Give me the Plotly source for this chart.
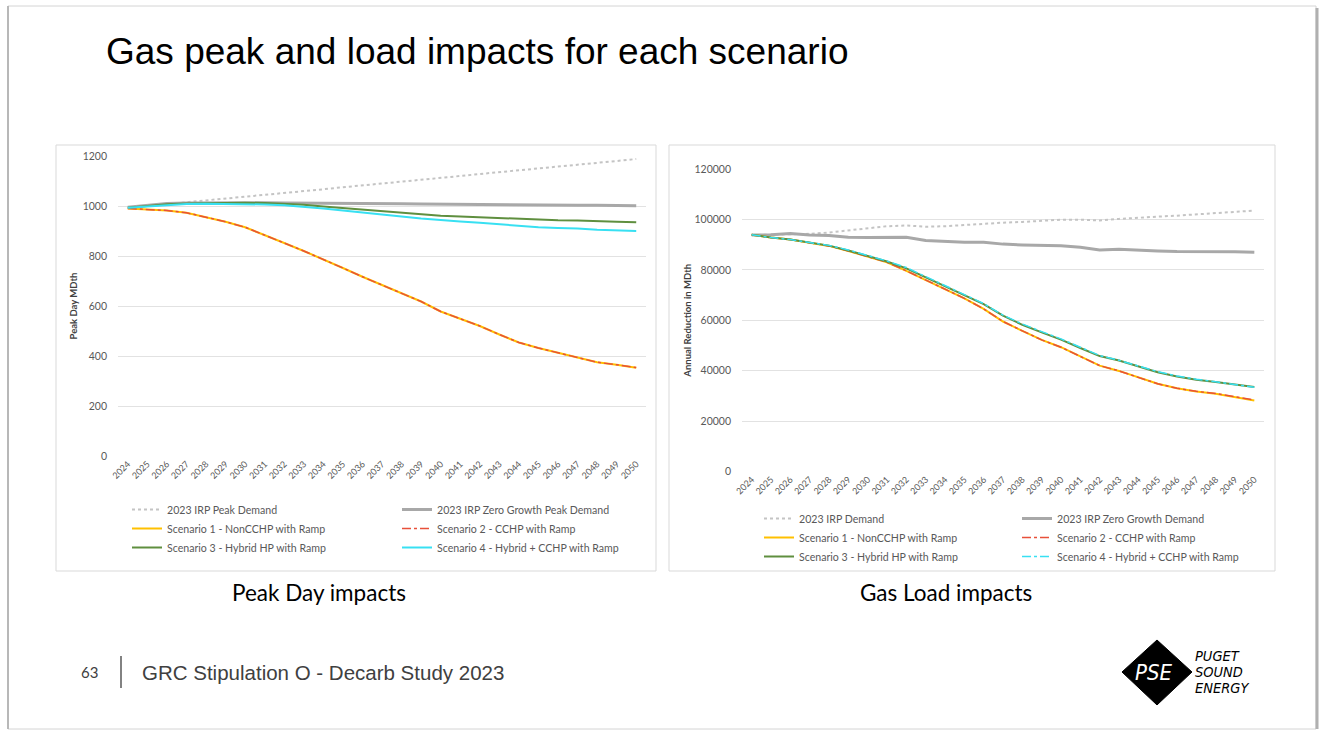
import plotly.graph_objects as go

W, H = 1322, 731

years = [str(y) for y in range(2024, 2051)]

# Peak day impacts (MDth)
peak_irp = [995, 1000, 1008, 1015, 1022, 1030, 1037, 1045, 1052, 1060, 1067, 1075, 1082, 1090,
            1098, 1105, 1113, 1120, 1128, 1135, 1143, 1150, 1158, 1165, 1172, 1180, 1188]
peak_zero = [995, 1003, 1010, 1012, 1013, 1013, 1013, 1013, 1012, 1012, 1011, 1010, 1010, 1009,
             1009, 1008, 1007, 1006, 1006, 1005, 1005, 1004, 1004, 1003, 1003, 1002, 1001]
peak_s1 = [990, 987, 982, 973, 955, 937, 915, 885, 852, 820, 787, 752, 717, 685,
           652, 618, 578, 548, 520, 486, 454, 432, 412, 395, 375, 365, 353]
peak_s2 = [990, 987, 982, 973, 955, 937, 915, 885, 852, 820, 787, 752, 717, 685,
           652, 618, 578, 548, 520, 486, 454, 432, 412, 395, 375, 365, 354]
peak_s3 = [993, 1000, 1007, 1010, 1012, 1013, 1013, 1012, 1009, 1005, 998, 992, 983, 978,
           973, 967, 961, 958, 955, 950, 946, 945, 943, 942, 938, 937, 935]
peak_s4 = [993, 999, 1005, 1008, 1009, 1009, 1008, 1006, 1003, 998, 990, 982, 973, 966,
           958, 950, 943, 938, 933, 927, 920, 915, 912, 910, 905, 902, 900]

# Annual gas load (MDth)
load_irp = [93800, 93900, 94100, 94300, 94800, 95600, 96400, 97300, 97600, 97100, 97300, 97800,
            98400, 98700, 99000, 99400, 99900, 99900, 99600, 100200, 100800, 101100, 101500,
            102000, 102700, 103100, 103500]
load_zero = [93800, 93900, 94400, 93800, 93600, 92900, 92800, 92800, 92900, 91600, 91200, 90950,
             90950, 90200, 89900, 89750, 89600, 89000, 87900, 88200, 88000, 87500, 87250, 87250,
             87500, 87200, 87000]
load_s1 = [93900, 92800, 92000, 90800, 89500, 87500, 85300, 83000, 79600, 76000, 72400, 68700,
           64500, 59500, 55800, 52200, 49300, 45600, 42000, 39900, 37400, 34800, 33000, 31700,
           30800, 29500, 28200]
load_s2 = [93900, 92800, 92000, 90800, 89500, 87500, 85300, 83000, 79600, 76000, 72400, 68700,
           64500, 59500, 55800, 52200, 49300, 45600, 42000, 39900, 37400, 34800, 33000, 31800,
           30900, 29700, 28400]
load_s3 = [93900, 92800, 92000, 90700, 89600, 87700, 85600, 83300, 80600, 77000, 73600, 70000,
           66400, 61800, 58200, 55200, 52300, 49000, 45800, 44000, 41700, 39400, 37700, 36400,
           35500, 34500, 33500]
load_s4 = [93900, 92800, 92000, 90800, 89700, 87900, 85800, 83500, 80900, 77300, 73900, 70300,
           66600, 62000, 58500, 55500, 52600, 49300, 46000, 44100, 41800, 39600, 37900, 36600,
           35600, 34500, 33400]

peak_names = ["2023 IRP Peak Demand", "2023 IRP Zero Growth Peak Demand",
              "Scenario 1 - NonCCHP with Ramp", "Scenario 2 - CCHP with Ramp",
              "Scenario 3 - Hybrid HP with Ramp", "Scenario 4 - Hybrid + CCHP with Ramp"]
load_names = ["2023 IRP Demand", "2023 IRP Zero Growth Demand",
              "Scenario 1 - NonCCHP with Ramp", "Scenario 2 - CCHP with Ramp",
              "Scenario 3 - Hybrid HP with Ramp", "Scenario 4 - Hybrid + CCHP with Ramp"]

C_IRP = "#c4c4c4"
C_ZERO = "#a8a8a8"
C_S1 = "#ffc000"
C_S2 = "#e8503a"
C_S3 = "#5f8f3f"
C_S4 = "#38e0f2"


def px_x(v):
    return v / W


def px_y(v):
    return 1 - v / H


fig = go.Figure()

peak_styles = [
    (peak_irp, C_IRP, 2, "dot", "legend"),
    (peak_zero, C_ZERO, 3, "solid", "legend2"),
    (peak_s1, C_S1, 2, "solid", "legend"),
    (peak_s2, C_S2, 1.5, "dashdot", "legend2"),
    (peak_s3, C_S3, 2, "solid", "legend"),
    (peak_s4, C_S4, 2, "solid", "legend2"),
]
for (vals, col, w, dash, lg), name in zip(peak_styles, peak_names):
    fig.add_trace(go.Scatter(x=years, y=vals, name=name, mode="lines",
                             line=dict(color=col, width=w, dash=dash),
                             xaxis="x", yaxis="y", legend=lg))

load_styles = [
    (load_irp, C_IRP, 2, "dot", "legend3"),
    (load_zero, C_ZERO, 3, "solid", "legend4"),
    (load_s1, C_S1, 2, "solid", "legend3"),
    (load_s2, C_S2, 1.5, "dashdot", "legend4"),
    (load_s3, C_S3, 2, "solid", "legend3"),
    (load_s4, C_S4, 1.5, "dashdot", "legend4"),
]
for (vals, col, w, dash, lg), name in zip(load_styles, load_names):
    fig.add_trace(go.Scatter(x=years, y=vals, name=name, mode="lines",
                             line=dict(color=col, width=w, dash=dash),
                             xaxis="x2", yaxis="y2", legend=lg))

tick_font = dict(family="Lato, Open Sans, sans-serif", size=10.5, color="#595959")
xtick_font = dict(family="Lato, Open Sans, sans-serif", size=9, color="#595959")
title_font = dict(family="Lato, Open Sans, sans-serif", size=9.5, color="#404040", weight="bold")

xaxis_common = dict(type="category", range=[-0.5, 26.5], tickangle=-45, tickfont=xtick_font,
                    showgrid=True, gridcolor="#ffffff", gridwidth=1, tickson="boundaries",
                    ticks="", showline=False, zeroline=False, fixedrange=True, automargin=False)
yaxis_common = dict(showgrid=True, gridcolor="#e2e2e2", gridwidth=1, ticks="",
                    showline=False, zeroline=False, tickfont=tick_font,
                    ticklabelstandoff=10, fixedrange=True, automargin=False)

legend_font = dict(family="Lato, Open Sans, sans-serif", size=10.6, color="#595959")


def legend_at(x_px, y_px):
    return dict(x=px_x(x_px), y=px_y(y_px), xanchor="left", yanchor="top",
                orientation="v", font=legend_font, bgcolor="rgba(0,0,0,0)",
                tracegroupgap=0, itemclick=False, itemdoubleclick=False)


fig.update_layout(
    width=W, height=H,
    margin=dict(l=0, r=0, t=0, b=0, autoexpand=False),
    paper_bgcolor="white",
    plot_bgcolor="#f3f3f3",
    showlegend=True,
    xaxis=dict(domain=[px_x(118), px_x(646)], anchor="y", **xaxis_common),
    yaxis=dict(domain=[px_y(456), px_y(156)], anchor="x", range=[0, 1200], dtick=200,
               title=dict(text="Peak Day MDth", font=title_font, standoff=3),
               **yaxis_common),
    xaxis2=dict(domain=[px_x(742), px_x(1264)], anchor="y2", **xaxis_common),
    yaxis2=dict(domain=[px_y(471.5), px_y(169)], anchor="x2", range=[0, 120000], dtick=20000,
                tickformat="d",
                title=dict(text="Annual Reduction in MDth", font=title_font, standoff=1),
                **yaxis_common),
    legend=legend_at(127, 495),
    legend2=legend_at(397, 495),
    legend3=legend_at(759, 504),
    legend4=legend_at(1017, 504),
)

shapes = []
# slide frame with a soft edge shadow
shapes.append(dict(type="rect", xref="paper", yref="paper",
                   x0=px_x(8), x1=px_x(1316), y0=px_y(729), y1=px_y(6),
                   line=dict(color="#d4d4d4", width=1), layer="below"))
shapes.append(dict(type="line", xref="paper", yref="paper",
                   x0=px_x(8), x1=px_x(8), y0=px_y(729), y1=px_y(6),
                   line=dict(color="#b8b8b8", width=2), layer="below"))
shapes.append(dict(type="line", xref="paper", yref="paper",
                   x0=px_x(1317), x1=px_x(1317), y0=px_y(729), y1=px_y(8),
                   line=dict(color="#b0b0b0", width=3), layer="below"))
# chart panels
for x0, x1 in [(56, 656), (669, 1275)]:
    shapes.append(dict(type="rect", xref="paper", yref="paper",
                       x0=px_x(x0), x1=px_x(x1), y0=px_y(571), y1=px_y(145),
                       line=dict(color="#d9d9d9", width=1), fillcolor="white", layer="below"))
# footer divider
shapes.append(dict(type="line", xref="paper", yref="paper",
                   x0=px_x(121), x1=px_x(121), y0=px_y(688), y1=px_y(656),
                   line=dict(color="#595959", width=1.5)))
# logo diamond
shapes.append(dict(type="path", xref="paper", yref="paper",
                   path="M {:.5f},{:.5f} L {:.5f},{:.5f} L {:.5f},{:.5f} L {:.5f},{:.5f} Z".format(
                       px_x(1122), px_y(672), px_x(1157), px_y(640),
                       px_x(1192), px_y(672), px_x(1157), px_y(705)),
                   fillcolor="#000000", line=dict(color="#000000", width=1)))
fig.update_layout(shapes=shapes)

ann = []
ann.append(dict(text="Gas peak and load impacts for each scenario", x=px_x(104), y=px_y(52),
                xref="paper", yref="paper", xanchor="left", yanchor="middle", showarrow=False,
                font=dict(family="Liberation Sans, Arial, sans-serif", size=37, color="#000000")))
ann.append(dict(text="Peak Day impacts", x=px_x(319), y=px_y(592),
                xref="paper", yref="paper", xanchor="center", yanchor="middle", showarrow=False,
                font=dict(family="Lato, Open Sans, sans-serif", size=22.5, color="#000000")))
ann.append(dict(text="Gas Load impacts", x=px_x(946), y=px_y(592),
                xref="paper", yref="paper", xanchor="center", yanchor="middle", showarrow=False,
                font=dict(family="Lato, Open Sans, sans-serif", size=22.5, color="#000000")))
ann.append(dict(text="63", x=px_x(89), y=px_y(672),
                xref="paper", yref="paper", xanchor="center", yanchor="middle", showarrow=False,
                font=dict(family="Lato, Open Sans, sans-serif", size=15, color="#404040")))
ann.append(dict(text="GRC Stipulation O - Decarb Study 2023", x=px_x(140), y=px_y(672),
                xref="paper", yref="paper", xanchor="left", yanchor="middle", showarrow=False,
                font=dict(family="Liberation Sans, Arial, sans-serif", size=20.5, color="#404040")))
ann.append(dict(text="PSE", x=px_x(1154), y=px_y(672),
                xref="paper", yref="paper", xanchor="center", yanchor="middle", showarrow=False,
                font=dict(family="DejaVu Sans Condensed, Liberation Sans Narrow, sans-serif",
                          size=22, color="#ffffff", style="italic")))
for txt, yy in [("PUGET", 656), ("SOUND", 672), ("ENERGY", 688)]:
    ann.append(dict(text=txt, x=px_x(1193), y=px_y(yy),
                    xref="paper", yref="paper", xanchor="left", yanchor="middle", showarrow=False,
                    font=dict(family="DejaVu Sans Condensed, Liberation Sans Narrow, sans-serif",
                              size=14.5, color="#000000", style="italic")))
fig.update_layout(annotations=ann)

fig.write_html("out.html")
